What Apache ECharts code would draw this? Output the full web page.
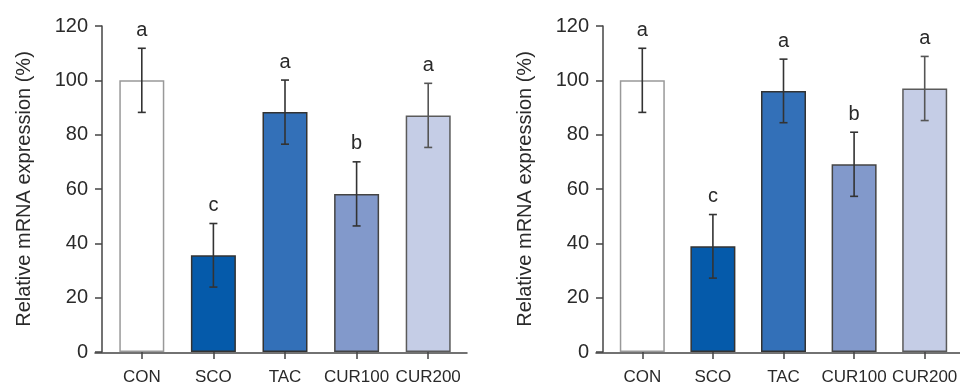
<!DOCTYPE html>
<html>
<head>
<meta charset="utf-8">
<script src="https://cdn.jsdelivr.net/npm/echarts@6/dist/echarts.min.js"></script>
<style>html,body{margin:0;padding:0;background:#fff}#c{width:960px;height:386px}</style>
</head>
<body>
<div id="c"></div>
<script>
const categories = ['CON', 'SCO', 'TAC', 'CUR100', 'CUR200'];
const yTicks = [0, 20, 40, 60, 80, 100, 120];
const valuesLeft = [100, 35.6, 88.3, 58.2, 87.1];
const errorsLeft = [11.8, 11.7, 11.8, 11.8, 11.8];
const lettersLeft = ['a', 'c', 'a', 'b', 'a'];
const valuesRight = [100, 38.9, 96.1, 69.1, 97.0];
const errorsRight = [11.8, 11.7, 11.7, 11.8, 11.8];
const lettersRight = ['a', 'c', 'a', 'b', 'a'];

const fills = ['#ffffff', '#055aaa', '#3370b8', '#8299cb', '#c5cde6'];
const borders = ['#999999', '#333333', '#333333', '#444444', '#5a5a5a'];
const errColors = ['#333333', '#333333', '#333333', '#333333', '#555555'];
const FONT = 'Liberation Sans, Arial, sans-serif';

const chart = echarts.init(document.getElementById('c'));

function barSeries(values, xi, yi) {
  return {
    type: 'bar', xAxisIndex: xi, yAxisIndex: yi, barWidth: 45, z: 2,
    data: values.map((v, i) => ({
      value: v,
      itemStyle: { color: fills[i], borderColor: borders[i], borderWidth: 1.5 }
    }))
  };
}
function errSeries(values, errors, letters, xi, yi) {
  return {
    type: 'custom', xAxisIndex: xi, yAxisIndex: yi, z: 5,
    data: values.map((v, i) => [i, v, errors[i], letters[i]]),
    renderItem: function (params, api) {
      const i = api.value(0), v = api.value(1), e = api.value(2);
      const top = api.coord([i, v + e]);
      const bot = api.coord([i, v - e]);
      const col = errColors[i];
      const st = { stroke: col, lineWidth: 1.6 };
      const hw = 4;
      return {
        type: 'group',
        children: [
          { type: 'line', shape: { x1: top[0], y1: top[1], x2: bot[0], y2: bot[1] }, style: st },
          { type: 'line', shape: { x1: top[0] - hw, y1: top[1], x2: top[0] + hw, y2: top[1] }, style: st },
          { type: 'line', shape: { x1: bot[0] - hw, y1: bot[1], x2: bot[0] + hw, y2: bot[1] }, style: st },
          { type: 'text', style: { text: letters[params.dataIndex], x: top[0], y: top[1] - 18, align: 'center', verticalAlign: 'middle', fill: '#2a2a2a', font: '20px ' + FONT } }
        ]
      };
    }
  };
}

function yAxisDef(gi, show) {
  return {
    type: 'value', gridIndex: gi, min: 0, max: 120, interval: 20, offset: show ? 4 : 0,
    show: show,
    name: show ? 'Relative mRNA expression (%)' : '',
    nameLocation: 'middle', nameRotate: 90, nameGap: 68,
    nameTextStyle: { fontSize: 20, color: '#2a2a2a', fontFamily: FONT },
    axisLine: { show: true, lineStyle: { color: '#444', width: 1.5 } },
    axisTick: { show: true, length: 7, lineStyle: { color: '#444', width: 1.5 } },
    axisLabel: { fontSize: 20, color: '#2a2a2a', fontFamily: FONT, margin: 14,
      formatter: v => yTicks.includes(v) ? String(v) : '' },
    splitLine: { show: false }
  };
}
function xAxisCat(gi) {
  return {
    type: 'category', gridIndex: gi, data: categories,
    axisLine: { show: false },
    axisTick: { show: true, alignWithLabel: true, length: 7, lineStyle: { color: '#444', width: 1.5 } },
    axisLabel: { fontSize: 17, color: '#2a2a2a', fontFamily: FONT, margin: 17, interval: 0 },
    splitLine: { show: false }
  };
}
function xAxisLine(gi) {
  return {
    type: 'value', gridIndex: gi, min: 0, max: 1,
    axisLine: { show: true, onZero: false, lineStyle: { color: '#444', width: 1.5 } },
    axisTick: { show: false }, axisLabel: { show: false }, splitLine: { show: false }
  };
}

chart.setOption({
  animation: false,
  backgroundColor: '#ffffff',
  grid: [
    { left: 106, top: 26, width: 358, height: 327 },
    { left: 95, top: 26, width: 372, height: 327 },
    { left: 607, top: 26, width: 358, height: 327 },
    { left: 596, top: 26, width: 400, height: 327 }
  ],
  xAxis: [xAxisCat(0), xAxisLine(1), xAxisCat(2), xAxisLine(3)],
  yAxis: [yAxisDef(0, true), yAxisDef(1, false), yAxisDef(2, true), yAxisDef(3, false)],
  series: [
    barSeries(valuesLeft, 0, 0),
    errSeries(valuesLeft, errorsLeft, lettersLeft, 0, 0),
    barSeries(valuesRight, 2, 2),
    errSeries(valuesRight, errorsRight, lettersRight, 2, 2)
  ]
});
</script>
</body>
</html>
